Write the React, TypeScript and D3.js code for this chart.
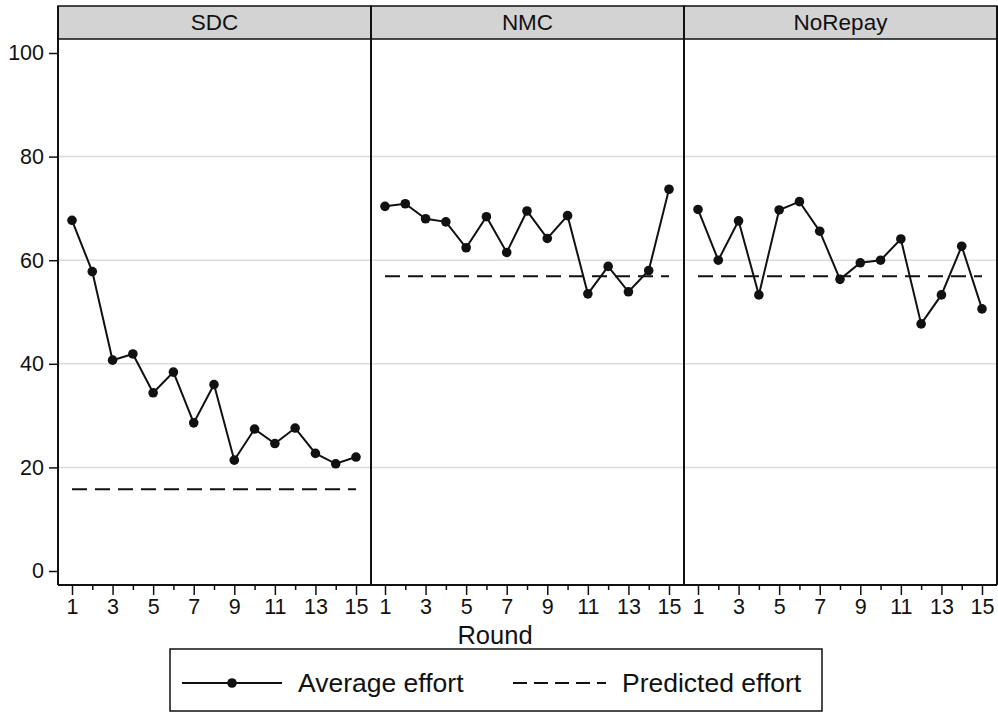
import React, { useEffect, useRef } from 'react';
import * as d3 from 'd3';

// treatments shown as panels
const panels = ['SDC', 'NMC', 'NoRepay'];
const rounds = [1, 2, 3, 4, 5, 6, 7, 8, 9, 10, 11, 12, 13, 14, 15];

// average effort per round
const sdcEffort = [67.7, 57.8, 40.7, 41.9, 34.4, 38.4, 28.6, 36.0, 21.4, 27.4, 24.6, 27.6, 22.7, 20.7, 22.0];
const nmcEffort = [70.4, 70.9, 68.0, 67.4, 62.4, 68.4, 61.5, 69.5, 64.2, 68.6, 53.5, 58.8, 53.9, 58.0, 73.7];
const noRepayEffort = [69.8, 60.0, 67.6, 53.3, 69.7, 71.3, 65.6, 56.3, 59.5, 60.0, 64.1, 47.7, 53.3, 62.7, 50.6];

// predicted (equilibrium) effort per treatment
const predicted = [15.8, 56.9, 56.9];

const yTicks = [0, 20, 40, 60, 80, 100];
const gridTicks = [20, 40, 60, 80];
const xMajor = [1, 3, 5, 7, 9, 11, 13, 15];
const xMinor = [2, 4, 6, 8, 10, 12, 14];

const legendLabels = ['Average effort', 'Predicted effort'];

const font = '"Liberation Sans", Arial, Helvetica, sans-serif';

const App = () => {
  const svgRef = useRef(null);

  useEffect(() => {
    const width = 998;
    const height = 713;
    const svg = d3.select(svgRef.current);
    svg.selectAll('*').remove();
    svg.attr('width', width).attr('height', height);

    const plotLeft = 58;
    const plotRight = 997;
    const headerTop = 6;
    const plotTop = 39;
    const plotBottom = 585;
    const panelW = (plotRight - plotLeft) / panels.length;

    const y = d3.scaleLinear().domain([0, 100]).range([571, 53]);

    const series = [sdcEffort, nmcEffort, noRepayEffort];

    svg.append('rect')
      .attr('width', width)
      .attr('height', height)
      .attr('fill', '#fff');

    panels.forEach((name, i) => {
      const left = plotLeft + i * panelW;
      const right = left + panelW;
      const x = d3.scaleLinear().domain([1, 15]).range([left + 14, right - 15]);
      const g = svg.append('g');

      // gridlines
      g.selectAll('line.grid')
        .data(gridTicks)
        .enter()
        .append('line')
        .attr('class', 'grid')
        .attr('x1', left)
        .attr('x2', right)
        .attr('y1', d => y(d))
        .attr('y2', d => y(d))
        .attr('stroke', '#dcdcdc')
        .attr('stroke-width', 1.5);

      // header strip
      g.append('rect')
        .attr('x', left)
        .attr('y', headerTop)
        .attr('width', panelW)
        .attr('height', plotTop - headerTop)
        .attr('fill', '#d3d3d3')
        .attr('stroke', '#111')
        .attr('stroke-width', 1.5);

      g.append('text')
        .attr('x', (left + right) / 2)
        .attr('y', plotTop - 9)
        .attr('text-anchor', 'middle')
        .style('font-family', font)
        .style('font-size', '22.5px')
        .attr('fill', '#111')
        .text(name);

      // predicted effort
      g.append('line')
        .attr('x1', x(1))
        .attr('x2', x(15))
        .attr('y1', y(predicted[i]))
        .attr('y2', y(predicted[i]))
        .attr('stroke', '#111')
        .attr('stroke-width', 2)
        .attr('stroke-dasharray', '15 8');

      const pts = rounds.map((r, k) => [r, series[i][k]]);
      const line = d3.line().x(d => x(d[0])).y(d => y(d[1]));
      g.append('path')
        .datum(pts)
        .attr('d', line)
        .attr('fill', 'none')
        .attr('stroke', '#111')
        .attr('stroke-width', 2);

      g.selectAll('circle')
        .data(pts)
        .enter()
        .append('circle')
        .attr('cx', d => x(d[0]))
        .attr('cy', d => y(d[1]))
        .attr('r', 4.8)
        .attr('fill', '#111');

      // x axis: labelled odd rounds, small ticks in between
      const major = g.append('g')
        .attr('transform', `translate(0,${plotBottom})`)
        .call(d3.axisBottom(x).tickValues(xMajor).tickSize(10).tickPadding(4).tickFormat(d3.format('d')));
      major.select('.domain').remove();
      major.selectAll('line').attr('stroke', '#111').attr('stroke-width', 1.5);
      major.selectAll('text')
        .style('font-family', font)
        .style('font-size', '21.5px')
        .attr('fill', '#111');

      const minor = g.append('g')
        .attr('transform', `translate(0,${plotBottom})`)
        .call(d3.axisBottom(x).tickValues(xMinor).tickSize(5).tickFormat(() => ''));
      minor.select('.domain').remove();
      minor.selectAll('line').attr('stroke', '#111').attr('stroke-width', 1.5);

      // panel frame
      g.append('line')
        .attr('x1', left).attr('x2', left)
        .attr('y1', headerTop).attr('y2', plotBottom)
        .attr('stroke', '#111').attr('stroke-width', 2);
      if (i === panels.length - 1) {
        g.append('line')
          .attr('x1', right).attr('x2', right)
          .attr('y1', headerTop).attr('y2', plotBottom)
          .attr('stroke', '#111').attr('stroke-width', 2);
      }
    });

    // bottom axis line across all panels
    svg.append('line')
      .attr('x1', plotLeft).attr('x2', plotRight)
      .attr('y1', plotBottom).attr('y2', plotBottom)
      .attr('stroke', '#111').attr('stroke-width', 2);

    // y axis
    const yAxis = svg.append('g')
      .attr('transform', `translate(${plotLeft},0)`)
      .call(d3.axisLeft(y).tickValues(yTicks).tickSize(9).tickPadding(5));
    yAxis.select('.domain').remove();
    yAxis.selectAll('line').attr('stroke', '#111').attr('stroke-width', 1.5);
    yAxis.selectAll('text')
      .style('font-family', font)
      .style('font-size', '21.5px')
      .attr('fill', '#111');

    // x title
    svg.append('text')
      .attr('x', 495)
      .attr('y', 644)
      .attr('text-anchor', 'middle')
      .style('font-family', font)
      .style('font-size', '25.5px')
      .attr('fill', '#111')
      .text('Round');

    // legend
    const lg = svg.append('g');
    lg.append('rect')
      .attr('x', 170)
      .attr('y', 649)
      .attr('width', 652)
      .attr('height', 62)
      .attr('fill', '#fff')
      .attr('stroke', '#111')
      .attr('stroke-width', 1.5);

    const ly = 683;
    lg.append('line')
      .attr('x1', 182).attr('x2', 282)
      .attr('y1', ly).attr('y2', ly)
      .attr('stroke', '#111').attr('stroke-width', 2);
    lg.append('circle')
      .attr('cx', 232).attr('cy', ly).attr('r', 4.8).attr('fill', '#111');
    lg.append('text')
      .attr('x', 298).attr('y', ly + 9)
      .style('font-family', font)
      .style('font-size', '26.5px')
      .attr('fill', '#111')
      .text(legendLabels[0]);

    lg.append('line')
      .attr('x1', 513).attr('x2', 606)
      .attr('y1', ly).attr('y2', ly)
      .attr('stroke', '#111').attr('stroke-width', 2)
      .attr('stroke-dasharray', '14 7');
    lg.append('text')
      .attr('x', 622).attr('y', ly + 9)
      .style('font-family', font)
      .style('font-size', '26.5px')
      .attr('fill', '#111')
      .text(legendLabels[1]);
  }, []);

  return (
    <div style={{ position: 'absolute', left: 0, top: 0 }}>
      <svg ref={svgRef}></svg>
    </div>
  );
};

export default App;
